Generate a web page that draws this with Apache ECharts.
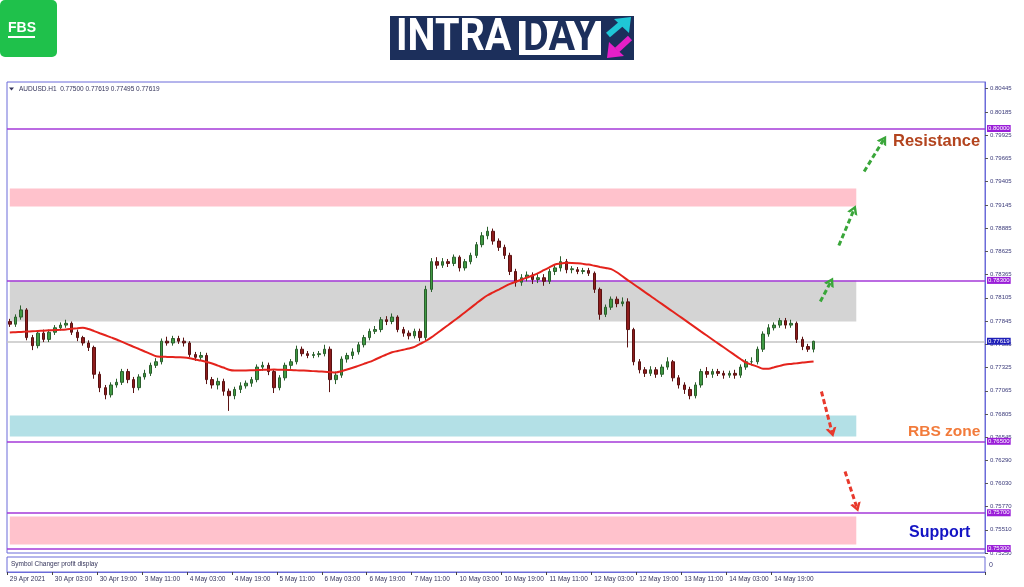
<!DOCTYPE html>
<html><head><meta charset="utf-8">
<script src="https://cdn.jsdelivr.net/npm/echarts@6/dist/echarts.min.js"></script>
<style>html,body{margin:0;padding:0;background:#fff}#c{width:1024px;height:587px}</style>
</head><body><div id="c"></div>
<script>
// ---------- DATA ----------
const symbolName = 'AUDUSD.H1';
const headerValues = ['0.77500', '0.77619', '0.77495', '0.77619'];
const tickLabels = ['29 Apr 2021','30 Apr 03:00','30 Apr 19:00','3 May 11:00','4 May 03:00','4 May 19:00','5 May 11:00','6 May 03:00','6 May 19:00','7 May 11:00','10 May 03:00','10 May 19:00','11 May 11:00','12 May 03:00','12 May 19:00','13 May 11:00','14 May 03:00','14 May 19:00'];
const yTicks = [0.80445,0.80185,0.79925,0.79665,0.79405,0.79145,0.78885,0.78625,0.78365,0.78105,0.77845,0.77585,0.77325,0.77065,0.76805,0.76545,0.76290,0.76030,0.75770,0.75510,0.75250];
const slotCount = 174;
const labelEvery = 8;

const O = [0.7784,0.7781,0.7789,0.7797,0.7766,0.7757,0.7771,0.7764,0.7772,0.7777,
0.7780,0.7782,0.7772,0.7766,0.7760,0.7755,0.7725,0.7710,0.7702,0.7713,
0.7716,0.7728,0.7719,0.7710,0.7722,0.7726,0.7735,0.7739,0.7762,0.7760,
0.7765,0.7762,0.7760,0.7747,0.7744,0.7746,0.7719,0.7713,0.7717,0.7706,
0.7701,0.7708,0.7712,0.7715,0.7719,0.7733,0.7735,0.7728,0.7710,0.7721,
0.7735,0.7739,0.7753,0.7748,0.7746,0.7747,0.7748,0.7753,0.7719,0.7724,
0.7742,0.7746,0.7750,0.7758,0.7766,0.7773,0.7775,0.7786,0.7784,0.7789,
0.7775,0.7771,0.7768,0.7773,0.7766,0.7820,0.7851,0.7847,0.7851,0.7849,
0.7856,0.7844,0.7851,0.7858,0.7870,0.7880,0.7885,0.7874,0.7867,0.7858,
0.7840,0.7828,0.7833,0.7836,0.7831,0.7833,0.7829,0.7840,0.7844,0.7851,
0.7842,0.7842,0.7840,0.7841,0.7838,0.7820,0.7792,0.7800,0.7809,0.7804,
0.7806,0.7775,0.7739,0.7730,0.7726,0.7730,0.7725,0.7733,0.7739,0.7721,
0.7713,0.7708,0.7701,0.7713,0.7728,0.7725,0.7728,0.7726,0.7724,0.7726,
0.7724,0.7733,0.7739,0.7739,0.7753,0.7770,0.7777,0.7780,0.7785,0.7780,
0.7782,0.7764,0.7756,0.7753];
const C = [0.7781,0.7789,0.7797,0.7766,0.7757,0.7771,0.7764,0.7772,0.7777,0.7780,
0.7782,0.7772,0.7766,0.7760,0.7755,0.7725,0.7710,0.7702,0.7713,0.7716,
0.7728,0.7719,0.7710,0.7722,0.7726,0.7735,0.7739,0.7762,0.7760,0.7765,
0.7762,0.7760,0.7747,0.7744,0.7746,0.7719,0.7713,0.7717,0.7706,0.7701,
0.7708,0.7712,0.7715,0.7719,0.7733,0.7735,0.7728,0.7710,0.7721,0.7735,
0.7739,0.7753,0.7748,0.7746,0.7747,0.7748,0.7753,0.7719,0.7724,0.7742,
0.7746,0.7750,0.7758,0.7766,0.7773,0.7775,0.7786,0.7784,0.7789,0.7775,
0.7771,0.7768,0.7773,0.7766,0.7820,0.7851,0.7847,0.7851,0.7849,0.7856,
0.7844,0.7851,0.7858,0.7870,0.7880,0.7885,0.7874,0.7867,0.7858,0.7840,
0.7828,0.7833,0.7836,0.7831,0.7833,0.7829,0.7840,0.7844,0.7851,0.7842,
0.7843,0.7840,0.7841,0.7838,0.7820,0.7792,0.7800,0.7809,0.7804,0.7806,
0.7775,0.7739,0.7730,0.7726,0.7730,0.7725,0.7733,0.7739,0.7721,0.7713,
0.7708,0.7701,0.7713,0.7728,0.7725,0.7728,0.7726,0.7724,0.7726,0.7724,
0.7733,0.7739,0.7739,0.7753,0.7770,0.7777,0.7780,0.7785,0.7780,0.7782,
0.7764,0.7756,0.7753,0.77619];
const H = [0.7787,0.7792,0.7802,0.7799,0.7769,0.7774,0.7775,0.7775,0.7780,0.7783,
0.7786,0.7784,0.7775,0.7768,0.7763,0.7757,0.7728,0.7713,0.7716,0.7720,
0.7731,0.7731,0.7722,0.7725,0.7730,0.7738,0.7743,0.7765,0.7767,0.7768,
0.7768,0.7766,0.7762,0.7750,0.7750,0.7749,0.7722,0.7721,0.7720,0.7709,
0.7711,0.7716,0.7718,0.7722,0.7736,0.7739,0.7738,0.7730,0.7724,0.7738,
0.7742,0.7757,0.7756,0.7751,0.7750,0.7751,0.7758,0.7756,0.7728,0.7745,
0.7749,0.7754,0.7761,0.7769,0.7776,0.7779,0.7789,0.7790,0.7793,0.7791,
0.7778,0.7774,0.7776,0.7776,0.7824,0.7855,0.7856,0.7855,0.7854,0.7859,
0.7858,0.7854,0.7861,0.7873,0.7884,0.7890,0.7888,0.7877,0.7870,0.7861,
0.7843,0.7837,0.7840,0.7839,0.7837,0.7837,0.7843,0.7848,0.7857,0.7854,
0.7846,0.7845,0.7844,0.7844,0.7840,0.7822,0.7803,0.7812,0.7812,0.7811,
0.7810,0.7777,0.7742,0.7733,0.7734,0.7733,0.7736,0.7744,0.7741,0.7724,
0.7716,0.7711,0.7716,0.7731,0.7733,0.7731,0.7731,0.7729,0.7729,0.7730,
0.7736,0.7742,0.7744,0.7756,0.7773,0.7781,0.7783,0.7788,0.7788,0.7786,
0.7784,0.7767,0.7759,0.77625];
const L = [0.7778,0.7778,0.7786,0.7763,0.7752,0.7754,0.7761,0.7761,0.7769,0.7774,
0.7777,0.7769,0.7762,0.7757,0.7751,0.7720,0.7705,0.7697,0.7699,0.7710,
0.7713,0.7715,0.7704,0.7707,0.7719,0.7723,0.7732,0.7736,0.7757,0.7757,
0.7759,0.7756,0.7744,0.7740,0.7741,0.7714,0.7709,0.7708,0.7701,0.7684,
0.7697,0.7704,0.7709,0.7711,0.7716,0.7729,0.7724,0.7704,0.7707,0.7718,
0.7731,0.7736,0.7745,0.7743,0.7743,0.7744,0.7745,0.7705,0.7714,0.7721,
0.7738,0.7742,0.7747,0.7755,0.7763,0.7770,0.7772,0.7780,0.7781,0.7772,
0.7767,0.7764,0.7765,0.7762,0.7763,0.7817,0.7843,0.7844,0.7845,0.7846,
0.7840,0.7841,0.7848,0.7855,0.7867,0.7876,0.7870,0.7863,0.7854,0.7836,
0.7823,0.7824,0.7829,0.7826,0.7827,0.7824,0.7826,0.7836,0.7840,0.7838,
0.7838,0.7837,0.7837,0.7835,0.7816,0.7786,0.7789,0.7797,0.7800,0.7801,
0.7755,0.7735,0.7726,0.7722,0.7723,0.7721,0.7722,0.7730,0.7717,0.7709,
0.7703,0.7697,0.7698,0.7710,0.7721,0.7721,0.7723,0.7720,0.7721,0.7720,
0.7721,0.7730,0.7735,0.7736,0.7750,0.7767,0.7774,0.7777,0.7776,0.7777,
0.7760,0.7752,0.7750,0.77495];
const MA = [0.77717,0.77721,0.77724,0.77727,0.77731,0.77734,0.77737,0.77741,0.77744,0.77747,
0.77751,0.77758,0.77764,0.77771,0.77756,0.77733,0.77709,0.77686,0.77662,0.77639,
0.77612,0.77585,0.77558,0.77532,0.77505,0.77478,0.77451,0.77446,0.77444,0.77442,
0.77440,0.77438,0.77430,0.77416,0.77403,0.77388,0.77370,0.77347,0.77325,0.77301,
0.77292,0.77292,0.77292,0.77294,0.77297,0.77299,0.77301,0.77303,0.77301,0.77299,
0.77297,0.77294,0.77292,0.77290,0.77285,0.77282,0.77278,0.77274,0.77271,0.77284,
0.77303,0.77322,0.77344,0.77366,0.77388,0.77415,0.77443,0.77471,0.77496,0.77510,
0.77524,0.77538,0.77556,0.77590,0.77622,0.77662,0.77708,0.77755,0.77801,0.77848,
0.77895,0.77943,0.77993,0.78042,0.78091,0.78134,0.78166,0.78198,0.78231,0.78261,
0.78285,0.78308,0.78332,0.78355,0.78382,0.78414,0.78446,0.78478,0.78488,0.78497,
0.78496,0.78491,0.78485,0.78477,0.78464,0.78451,0.78439,0.78426,0.78391,0.78346,
0.78301,0.78257,0.78213,0.78169,0.78126,0.78081,0.78037,0.77993,0.77949,0.77905,
0.77861,0.77816,0.77772,0.77727,0.77683,0.77639,0.77595,0.77552,0.77508,0.77464,
0.77421,0.77379,0.77357,0.77335,0.77312,0.77312,0.77328,0.77344,0.77359,0.77366,
0.77373,0.77381,0.77387,0.77393];

const levelLines = [0.80000, 0.78300, 0.76500, 0.75700, 0.75300];
const lastPrice = 0.77619;
const zoneTop = [0.79329, 0.78300, 0.76788, 0.75658];
const zoneBottom = [0.79127, 0.77840, 0.76553, 0.75345];
const zoneEndSlot = 150.6;
// arrows: [fromSlot, fromPrice, toSlot, toPrice]
const upArrows = [[144.2,0.78064,146.1,0.78288],[147.5,0.78691,150.2,0.79094],[152.0,0.79519,155.5,0.79877]];
const downArrows = [[144.4,0.77057,146.3,0.76598],[148.6,0.76162,150.7,0.75759]];

// ---------- CHART ----------
const categories = Array.from({length: slotCount}, (_, i) => String(i));
const candleData = O.map((o, i) => [o, C[i], L[i], H[i]]);
const frame = '#6b6bd9';
const zoneColors = ['#ffc2cc', '#d4d4d4', '#b3e0e6', '#ffc2cc'];
const showTick = (i) => i % labelEvery === 0 && i / labelEvery < tickLabels.length;
const chevron = 'path://M0,9 L5,0 L10,9 L7.4,9 L5,4.6 L2.6,9 Z';
const priceLabel = (bg, txt) => ({show: true, position: 'end', distance: 2, formatter: txt, backgroundColor: bg,
  color: '#fff', fontSize: 6, padding: [1, 1, 0, 1], fontFamily: 'Liberation Sans'});

const chart = echarts.init(document.getElementById('c'));
chart.setOption({
  animation: false,
  backgroundColor: '#ffffff',
  grid: [
    {left: 7, right: 39, top: 82, height: 471, show: true, borderColor: frame, borderWidth: 1},
    {left: 7, right: 39, top: 557, height: 15, show: true, borderColor: frame, borderWidth: 1}
  ],
  xAxis: [
    {type: 'category', gridIndex: 0, data: categories, boundaryGap: true, show: false},
    {type: 'category', gridIndex: 1, data: categories, boundaryGap: true,
     axisLine: {show: true, lineStyle: {color: frame}},
     axisTick: {show: true, length: 3, interval: showTick, lineStyle: {color: '#444'}},
     axisLabel: {show: true, interval: showTick, formatter: (v, i) => tickLabels[i / labelEvery] || '',
       fontSize: 6.5, color: '#33335a', align: 'left', margin: 4, fontFamily: 'Liberation Sans'},
     splitLine: {show: false}},
    {type: 'value', gridIndex: 0, min: -0.5, max: slotCount - 0.5, show: false}
  ],
  yAxis: [
    {type: 'value', gridIndex: 0, position: 'right', min: 0.7525, max: 0.8052,
     axisLine: {show: true, onZero: false, lineStyle: {color: frame}},
     axisTick: {show: true, length: 3, customValues: yTicks, lineStyle: {color: '#555'}},
     axisLabel: {customValues: yTicks, formatter: v => v.toFixed(5), fontSize: 6, color: '#3b3b7a', margin: 5, fontFamily: 'Liberation Sans'},
     splitLine: {show: false}},
    {type: 'value', gridIndex: 1, min: 0, max: 1, show: false}
  ],
  series: [
    {type: 'line', xAxisIndex: 2, yAxisIndex: 0, data: [], silent: true,
     markArea: {silent: true, data: zoneTop.map((t, k) => [
       {xAxis: 0, yAxis: t, itemStyle: {color: zoneColors[k], opacity: 1}},
       {xAxis: zoneEndSlot, yAxis: zoneBottom[k]}])}},
    {type: 'line', xAxisIndex: 2, yAxisIndex: 0, data: [], silent: true,
     markLine: {silent: true, symbol: 'none', precision: 5, z: 2,
       data: [{yAxis: lastPrice, lineStyle: {color: '#c4c4c4', width: 1.5, type: 'solid'},
               label: priceLabel('#1f1fb8', lastPrice.toFixed(5))}]
         .concat(levelLines.map(v => ({yAxis: v, lineStyle: {color: '#a43ad8', width: 1.5, type: 'solid'},
               label: priceLabel('#9a1ed8', v.toFixed(5))})))}},
    {type: 'candlestick', xAxisIndex: 0, yAxisIndex: 0, data: candleData, barWidth: 3, z: 3,
     itemStyle: {color: '#3f9a43', color0: '#8e1c1c', borderColor: '#2b5f2d', borderColor0: '#5a1212', borderWidth: 1}},
    {type: 'line', xAxisIndex: 0, yAxisIndex: 0, data: MA, symbol: 'none', smooth: 0.3, z: 4,
     lineStyle: {color: '#e4231c', width: 2}},
    {type: 'line', xAxisIndex: 2, yAxisIndex: 0, data: [], silent: true,
     markLine: {silent: true, precision: 5, symbol: ['none', chevron], symbolSize: [11, 9], label: {show: false},
       lineStyle: {color: '#3aa63a', width: 3, type: [5, 3]},
       data: upArrows.map(a => [{coord: [a[0], a[1]]}, {coord: [a[2], a[3]]}])}},
    {type: 'line', xAxisIndex: 2, yAxisIndex: 0, data: [], silent: true,
     markLine: {silent: true, precision: 5, symbol: ['none', chevron], symbolSize: [11, 9], label: {show: false},
       lineStyle: {color: '#e8392c', width: 3, type: [5, 3]},
       data: downArrows.map(a => [{coord: [a[0], a[1]]}, {coord: [a[2], a[3]]}])}}
  ],
  graphic: [
    // FBS logo
    {type: 'rect', shape: {x: 0, y: 0, width: 57, height: 57, r: 5}, style: {fill: '#1fc14b'}},
    {type: 'text', x: 8, y: 28, style: {text: 'FBS', fill: '#fff', font: 'bold 14px "Liberation Sans"', verticalAlign: 'middle'}},
    {type: 'rect', shape: {x: 8, y: 36, width: 27, height: 2}, style: {fill: '#fff'}},
    // INTRADAY logo
    {type: 'rect', shape: {x: 390, y: 16, width: 244, height: 44}, style: {fill: '#1c2f5b'}},
    {type: 'text', x: 396, y: 39, scaleX: 0.9, style: {text: 'INTRA', fill: '#fff', font: 'bold 44px Roboto', verticalAlign: 'middle'}},
    {type: 'rect', shape: {x: 519, y: 21, width: 82, height: 34}, style: {fill: '#fff'}},
    {type: 'text', x: 560, y: 39, scaleX: 0.9, style: {text: 'DAY', fill: '#1c2f5b', font: 'bold 44px Roboto', align: 'center', verticalAlign: 'middle'}},
    {type: 'polyline', shape: {points: [[608, 35], [621, 24]]}, style: {stroke: '#1fc6d6', lineWidth: 6}},
    {type: 'polygon', shape: {points: [[614, 19], [631, 17], [629, 33]]}, style: {fill: '#1fc6d6'}},
    {type: 'polyline', shape: {points: [[630, 38], [617, 50]]}, style: {stroke: '#e51fc8', lineWidth: 6}},
    {type: 'polygon', shape: {points: [[607, 58], [609, 42], [624, 56]]}, style: {fill: '#e51fc8'}},
    // chart header
    {type: 'polygon', shape: {points: [[9, 87.5], [14, 87.5], [11.5, 90.5]]}, style: {fill: '#33335a'}},
    {type: 'text', x: 19, y: 89, style: {text: symbolName + '  ' + headerValues.join(' '), fill: '#33335a', font: '6.5px "Liberation Sans"', verticalAlign: 'middle'}},
    // sub window
    {type: 'text', x: 11, y: 564.5, style: {text: 'Symbol Changer profit display', fill: '#33335a', font: '6.5px "Liberation Sans"', verticalAlign: 'middle'}},
    {type: 'text', x: 989, y: 565, style: {text: '0', fill: '#3b3b7a', font: '7px "Liberation Sans"', verticalAlign: 'middle'}},
    // annotations
    {type: 'text', x: 893, y: 141, z: 10, style: {text: 'Resistance', fill: '#b3441e', font: 'bold 16.5px "Liberation Sans"', verticalAlign: 'middle'}},
    {type: 'text', x: 908, y: 432, z: 10, style: {text: 'RBS zone', fill: '#f27b3b', font: 'bold 15.5px "Liberation Sans"', verticalAlign: 'middle'}},
    {type: 'text', x: 909, y: 533, z: 10, style: {text: 'Support', fill: '#1414c4', font: 'bold 16px "Liberation Sans"', verticalAlign: 'middle'}}
  ]
});
</script></body></html>
